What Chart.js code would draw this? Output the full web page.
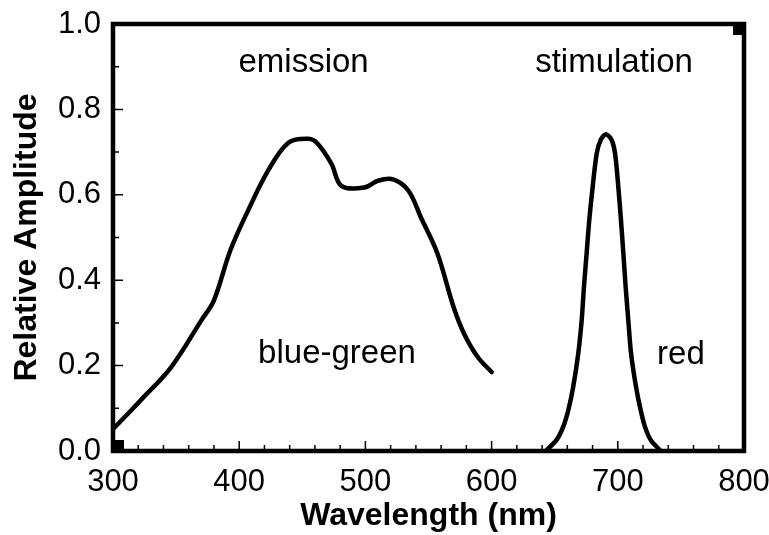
<!DOCTYPE html>
<html><head><meta charset="utf-8">
<script src="https://cdn.jsdelivr.net/npm/chart.js@4.4.1/dist/chart.umd.min.js"></script>
<style>html,body{margin:0;padding:0;background:#fff;}canvas{display:block;}</style>
</head><body>
<canvas id="c" width="769" height="535"></canvas>
<script>
// ---- data ----
const emissionWavelength = [300, 322, 346, 370, 380, 393, 407, 423, 439, 455, 462, 473, 481, 499, 510, 522, 534, 544, 557, 570, 578, 589, 600];
const emissionAmplitude  = [0.051, 0.119, 0.196, 0.306, 0.353, 0.470, 0.563, 0.657, 0.722, 0.731, 0.720, 0.673, 0.621, 0.617, 0.633, 0.636, 0.610, 0.547, 0.463, 0.336, 0.276, 0.220, 0.185];
const stimulationWavelength = [643.6, 651.5, 656.8, 660.8, 664.7, 668.7, 671.4, 673.2, 675.3, 677.4, 680.1, 683.3, 686.5, 690.6, 695.0, 697.8, 700.4, 702.5, 704.4, 706.2, 708.3, 710.5, 714.4, 718.1, 721.5, 726.0, 733.4];
const stimulationAmplitude  = [0.002, 0.026, 0.057, 0.096, 0.151, 0.229, 0.307, 0.385, 0.463, 0.541, 0.619, 0.697, 0.729, 0.742, 0.729, 0.697, 0.619, 0.541, 0.463, 0.385, 0.307, 0.229, 0.151, 0.096, 0.057, 0.026, 0.002];
const xMajorTicks = [300, 400, 500, 600, 700, 800];
const xMinorTicks = [320, 340, 360, 380, 420, 440, 460, 480, 520, 540, 560, 580, 620, 640, 660, 680, 720, 740, 760, 780];
const yTickLabels = ['0.0', '0.2', '0.4', '0.6', '0.8', '1.0'];
const yMajorTicks = [0.2, 0.4, 0.6, 0.8];
const yMinorTicks = [0.1, 0.3, 0.5, 0.7, 0.9];
const annotationTexts = ['emission', 'stimulation', 'blue-green', 'red'];
const annotationWavelength = [451, 697, 477.5, 750];
const annotationAmplitude = [0.888, 0.888, 0.206, 0.204];

const FONT = '"Liberation Sans", Arial, Helvetica, sans-serif';
Chart.defaults.font.family = FONT;
Chart.defaults.color = '#000';

const decor = {
  id: 'decor',
  afterDatasetsDraw(chart) {
    const {ctx, chartArea: a, scales: {x, y}} = chart;
    ctx.save();
    ctx.strokeStyle = '#000';
    ctx.fillStyle = '#000';
    // inward ticks
    ctx.lineWidth = 1.5;
    ctx.beginPath();
    xMajorTicks.forEach(v => { const p = x.getPixelForValue(v); ctx.moveTo(p, a.bottom); ctx.lineTo(p, a.bottom - 10); });
    xMinorTicks.forEach(v => { const p = x.getPixelForValue(v); ctx.moveTo(p, a.bottom); ctx.lineTo(p, a.bottom - 6); });
    yMajorTicks.forEach(v => { const p = y.getPixelForValue(v); ctx.moveTo(a.left, p); ctx.lineTo(a.left + 10, p); });
    yMinorTicks.forEach(v => { const p = y.getPixelForValue(v); ctx.moveTo(a.left, p); ctx.lineTo(a.left + 6, p); });
    ctx.stroke();
    // frame
    ctx.lineWidth = 4.5;
    ctx.strokeRect(a.left, a.top, a.right - a.left, a.bottom - a.top);
    // corner squares
    ctx.fillRect(a.left, a.bottom - 11, 11, 11);
    ctx.fillRect(a.right - 11, a.top, 11, 11);
    // annotations
    ctx.font = '33px ' + FONT;
    ctx.textAlign = 'center';
    ctx.textBaseline = 'alphabetic';
    annotationTexts.forEach((t, i) => {
      ctx.fillText(t, x.getPixelForValue(annotationWavelength[i]), y.getPixelForValue(annotationAmplitude[i]));
    });
    ctx.restore();
  }
};

new Chart(document.getElementById('c'), {
  type: 'line',
  data: {
    datasets: [
      {
        label: 'emission',
        data: emissionWavelength.map((w, i) => ({x: w, y: emissionAmplitude[i]})),
        borderColor: '#000', borderWidth: 4.5, pointRadius: 0, fill: false,
        tension: 0.35, borderCapStyle: 'round', borderJoinStyle: 'round'
      },
      {
        label: 'stimulation',
        data: stimulationWavelength.map((w, i) => ({x: w, y: stimulationAmplitude[i]})),
        borderColor: '#000', borderWidth: 4.5, pointRadius: 0, fill: false,
        tension: 0.3, borderCapStyle: 'round', borderJoinStyle: 'round'
      }
    ]
  },
  options: {
    responsive: false,
    animation: false,
    layout: {padding: {top: 24, right: 25, left: 0, bottom: 0}},
    plugins: {legend: {display: false}, tooltip: {enabled: false}},
    scales: {
      x: {
        type: 'linear', min: 300, max: 800,
        afterFit(s) { s.height = 84; s.paddingLeft = 0; s.paddingRight = 0; },
        border: {display: false},
        grid: {display: true, drawOnChartArea: false, drawTicks: false},
        ticks: {stepSize: 100, autoSkip: false, maxRotation: 0, padding: 13,
                font: {size: 31}, color: '#000', callback: v => String(v)},
        title: {display: true, text: 'Wavelength (nm)', color: '#000',
                font: {size: 32, weight: 'bold'}, padding: {top: 0, bottom: 0}}
      },
      y: {
        min: 0, max: 1,
        afterFit(s) { s.width = 113; s.paddingTop = 0; s.paddingBottom = 0; },
        border: {display: false},
        grid: {display: true, drawOnChartArea: false, drawTicks: false},
        ticks: {stepSize: 0.2, padding: 12, font: {size: 31}, color: '#000',
                callback: (v, i) => yTickLabels[i]},
        title: {display: true, text: 'Relative Amplitude', color: '#000',
                font: {size: 32, weight: 'bold'}, padding: {top: 8, bottom: 0}}
      }
    }
  },
  plugins: [decor]
});
</script>
</body></html>
